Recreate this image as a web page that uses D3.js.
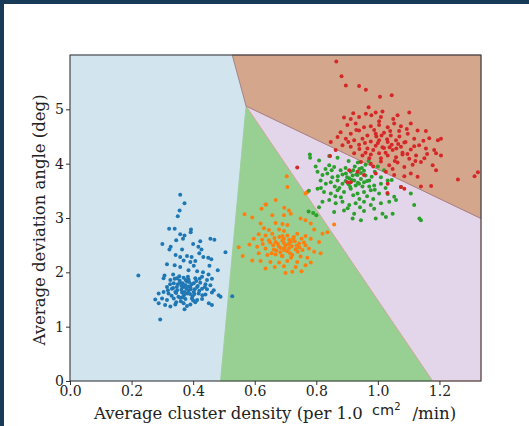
<!DOCTYPE html>
<html>
<head>
<meta charset="utf-8">
<script src="https://cdn.jsdelivr.net/npm/d3@7"></script>
<style>
  html, body { margin: 0; padding: 0; background: #fff; }
  svg { display: block; }
</style>
</head>
<body>
<svg id="chart" width="529" height="426"></svg>
<script>
// cluster points [density, angle]
var bluePts = [
  [0.358,3.43],[0.372,3.27],[0.356,3.14],[0.350,3.03],[0.322,2.80],[0.340,2.80],[0.393,2.79],[0.392,2.74],
  [0.358,2.70],[0.372,2.68],[0.367,2.62],[0.345,2.59],[0.300,2.52],[0.400,2.52],[0.423,2.57],[0.456,2.62],
  [0.469,2.60],[0.327,2.47],[0.323,2.42],[0.364,2.42],[0.417,2.47],[0.427,2.42],[0.505,2.37],[0.343,2.32],
  [0.358,2.28],[0.380,2.30],[0.395,2.28],[0.420,2.35],[0.433,2.28],[0.449,2.27],[0.459,2.24],[0.369,2.22],
  [0.391,2.19],[0.407,2.21],[0.315,2.15],[0.340,2.13],[0.358,2.10],[0.402,2.12],[0.453,2.12],[0.222,1.94],
  [0.307,1.94],[0.335,1.96],[0.385,2.04],[0.413,2.02],[0.480,2.04],[0.432,2.00],[0.450,1.96],
  [0.304,1.89],[0.326,1.86],[0.347,1.89],[0.369,1.90],[0.385,1.87],[0.407,1.89],[0.429,1.92],[0.445,1.86],
  [0.461,1.88],[0.337,1.80],[0.358,1.81],[0.380,1.83],[0.402,1.80],[0.423,1.81],[0.440,1.78],[0.456,1.76],
  [0.315,1.73],[0.331,1.70],[0.347,1.73],[0.369,1.73],[0.391,1.72],[0.413,1.73],[0.429,1.70],[0.445,1.69],
  [0.467,1.67],[0.288,1.61],[0.304,1.64],[0.320,1.61],[0.342,1.64],[0.364,1.63],[0.380,1.61],[0.402,1.64],
  [0.418,1.61],[0.440,1.59],[0.461,1.63],[0.483,1.58],[0.277,1.50],[0.299,1.52],[0.315,1.49],[0.337,1.52],
  [0.358,1.53],[0.375,1.51],[0.396,1.52],[0.413,1.49],[0.429,1.51],[0.451,1.43],[0.461,1.40],[0.309,1.40],
  [0.326,1.37],[0.342,1.41],[0.369,1.43],[0.391,1.41],[0.407,1.45],[0.293,1.13],[0.372,1.32],[0.527,1.56],
  [0.288,1.43],[0.489,1.55],
  [0.350,1.78],[0.362,1.68],[0.375,1.76],[0.385,1.66],[0.395,1.78],[0.405,1.69],[0.345,1.62],[0.356,1.85],
  [0.370,1.58],[0.383,1.92],[0.398,1.56],[0.410,1.84],[0.335,1.71],[0.366,1.80],[0.378,1.70],[0.352,1.55],
  [0.390,1.60],[0.415,1.75],[0.325,1.78],[0.340,1.88],[0.372,1.64],[0.387,1.82],[0.360,1.47],[0.400,1.48],
  [0.420,1.66],[0.430,1.58],[0.318,1.67],[0.345,1.45],[0.380,1.38],[0.355,1.93],
  [0.362,1.75],[0.392,1.69],[0.376,1.86],[0.348,1.67],[0.404,1.60],[0.366,1.54],[0.386,1.74],[0.330,1.57],
  [0.438,1.73],[0.421,1.88]
];
var orangePts = [
  [0.637,3.25],[0.696,3.19],[0.711,3.14],[0.622,3.17],[0.567,3.07],[0.592,3.01],[0.657,3.05],[0.695,3.05],
  [0.717,3.08],[0.749,2.99],[0.765,2.96],[0.782,2.90],[0.619,2.90],[0.668,2.91],[0.690,2.89],[0.706,2.87],
  [0.630,2.81],[0.646,2.78],[0.679,2.79],[0.695,2.76],[0.793,2.79],[0.820,2.71],[0.613,2.70],[0.635,2.68],
  [0.657,2.71],[0.690,2.67],[0.706,2.68],[0.727,2.65],[0.738,2.71],[0.765,2.67],[0.782,2.62],[0.597,2.62],
  [0.624,2.60],[0.646,2.59],[0.668,2.56],[0.695,2.54],[0.717,2.56],[0.744,2.53],[0.765,2.50],[0.809,2.56],
  [0.583,2.51],[0.548,2.46],[0.608,2.47],[0.635,2.44],[0.662,2.42],[0.679,2.47],[0.695,2.41],[0.711,2.44],
  [0.733,2.42],[0.755,2.41],[0.776,2.44],[0.793,2.38],[0.814,2.35],[0.613,2.35],[0.641,2.32],[0.668,2.33],
  [0.690,2.30],[0.722,2.32],[0.749,2.29],[0.771,2.27],[0.561,2.30],[0.592,2.22],[0.619,2.21],[0.651,2.19],
  [0.679,2.18],[0.706,2.21],[0.738,2.19],[0.782,2.18],[0.635,2.07],[0.665,2.10],[0.695,2.11],[0.733,2.10],
  [0.765,2.13],[0.700,1.99],[0.722,2.01],[0.752,2.02],
  [0.675,2.52],[0.685,2.45],[0.700,2.50],[0.690,2.58],[0.710,2.52],[0.705,2.39],[0.720,2.48],[0.670,2.40],
  [0.695,2.62],[0.730,2.57],[0.660,2.50],[0.680,2.65],[0.745,2.46],[0.715,2.35],[0.650,2.55],[0.740,2.38],
  [0.725,2.62],[0.655,2.35],[0.688,2.30],[0.760,2.55],
  [0.704,3.77],[0.706,3.57],[0.769,3.47],[0.668,3.33],[0.635,3.25],[0.858,2.88],[0.836,2.74],[0.765,3.45],
  [0.771,3.48],
  [0.712,2.60],[0.683,2.37],[0.736,2.49],[0.664,2.63],[0.697,2.45],[0.752,2.62],[0.626,2.52],[0.718,2.27]
];
var greenPts = [
  [0.779,4.17],[0.780,4.11],[0.798,3.95],[0.809,4.06],[0.842,4.14],[0.869,4.11],[0.842,3.97],[0.858,3.94],
  [0.804,3.85],[0.820,3.79],[0.836,3.82],[0.879,3.88],[0.896,3.82],[0.912,3.85],[0.934,3.79],[0.945,3.83],
  [0.814,3.69],[0.831,3.63],[0.847,3.66],[0.869,3.69],[0.885,3.63],[0.907,3.73],[0.923,3.69],[0.939,3.63],
  [0.955,3.66],[0.972,3.69],[0.988,3.60],[1.010,3.63],[0.776,3.50],[0.804,3.54],[0.825,3.48],[0.847,3.45],
  [0.869,3.51],[0.890,3.48],[0.912,3.54],[0.934,3.45],[0.955,3.48],[0.977,3.51],[1.004,3.45],[1.032,3.44],
  [1.053,3.39],[0.820,3.30],[0.842,3.33],[0.863,3.27],[0.885,3.30],[0.907,3.24],[0.928,3.27],[0.955,3.30],
  [0.977,3.24],[1.010,3.27],[1.037,3.30],[1.059,3.33],[0.809,3.20],[0.858,3.11],[0.890,3.14],[0.923,3.08],
  [0.955,3.13],[0.988,3.17],[1.015,3.08],[1.048,3.08],[1.118,3.24],[1.135,2.99],[1.140,2.96],[0.918,2.99],
  [0.945,2.96],[0.993,2.99],[1.026,3.02],[1.107,3.45],[1.075,3.57],[1.032,3.69],
  [0.900,3.75],[0.915,3.70],[0.930,3.80],[0.945,3.72],[0.920,3.88],[0.905,3.62],[0.940,3.90],[0.950,3.58],
  [0.960,3.78],[0.885,3.80],[0.935,3.65],[0.925,3.95],[0.910,3.57],[0.955,3.87],[0.965,3.68],[0.895,3.92],
  [0.870,3.77],[0.980,3.76],[0.875,3.55],[0.990,3.85],[0.960,3.98],[0.990,3.52],[0.935,4.02],[0.905,4.05],
  [0.970,4.05],[1.000,3.95],[1.020,3.88],[1.010,3.75],[0.850,3.88],[0.860,3.58],[0.880,3.38],[0.940,3.35],
  [0.965,3.40],[0.920,3.42],[1.025,3.55],[1.045,3.70],[0.830,3.90],[0.815,3.55],
  [0.775,3.12],[0.790,3.09],[0.800,3.05],
  [0.918,3.78],[0.928,3.60],[0.948,3.92],[0.895,3.68],[0.972,3.58],[0.862,3.40],[0.902,3.18],[0.942,3.20],
  [0.985,3.35],[0.852,3.75]
];
var redPts = [
  [0.865,5.88],[0.882,5.61],[0.896,5.44],[0.939,5.43],[0.961,5.36],[1.007,5.23],[1.045,5.26],[0.970,5.04],
  [0.890,4.85],[0.912,4.82],[0.939,4.86],[0.961,4.92],[0.979,4.89],[0.993,4.94],[1.010,4.86],[1.015,4.96],
  [1.064,4.89],[1.102,4.94],[0.901,4.71],[0.928,4.74],[0.955,4.67],[0.977,4.69],[1.004,4.71],[1.032,4.67],
  [1.053,4.74],[1.075,4.69],[1.107,4.74],[0.879,4.58],[0.912,4.55],[0.939,4.61],[0.966,4.52],[0.993,4.55],
  [1.020,4.57],[1.042,4.52],[1.069,4.60],[1.097,4.55],[1.129,4.61],[1.156,4.60],[0.869,4.49],[0.896,4.46],
  [0.923,4.43],[0.950,4.46],[0.977,4.41],[1.004,4.43],[1.032,4.40],[1.059,4.43],[1.086,4.39],[1.118,4.46],
  [1.167,4.47],[1.195,4.43],[1.205,4.46],[0.847,4.40],[0.885,4.34],[0.912,4.31],[0.939,4.35],[0.966,4.28],
  [0.993,4.33],[1.020,4.29],[1.048,4.25],[1.075,4.31],[1.107,4.26],[1.134,4.34],[1.156,4.28],[1.183,4.25],
  [0.863,4.25],[0.923,4.19],[0.950,4.15],[0.977,4.17],[1.004,4.19],[1.032,4.15],[1.059,4.12],[1.080,4.17],
  [1.102,4.09],[1.124,4.15],[1.151,4.10],[1.189,4.19],[1.205,4.15],[0.945,4.03],[0.977,4.00],[1.010,4.04],
  [1.037,3.97],[1.064,4.02],[1.086,3.94],[1.113,3.98],[1.140,4.03],[1.178,3.97],[1.189,3.88],[0.907,3.88],
  [0.934,3.85],[0.955,3.79],[0.993,3.82],[1.026,3.85],[1.053,3.79],[1.086,3.77],[1.107,3.82],[1.129,3.76],
  [0.912,3.66],[1.032,3.63],[1.075,3.57],[1.173,3.59],[1.260,3.71],[1.314,3.77],[1.325,3.84],
  [0.738,3.93],[0.845,4.14],[0.901,3.66],[1.031,3.46],[1.086,3.54],[1.140,3.58],
  [1.000,4.38],[1.015,4.30],[1.030,4.45],[1.045,4.35],[1.060,4.28],[0.985,4.25],[1.025,4.20],[1.040,4.60],
  [1.070,4.50],[0.995,4.50],[1.055,4.05],[1.090,4.40],[1.010,4.10],[0.960,4.20],[1.080,4.20],
  [0.930,4.62],[0.958,4.38],[0.988,4.62],[1.012,4.52],[1.038,4.30],[1.066,4.36],[1.094,4.64],[1.118,4.32],
  [1.148,4.42],[0.904,4.40],[0.940,4.27],[0.972,4.10],[1.096,4.18],[1.122,4.05],[1.160,4.18],[0.985,3.95],
  [1.048,3.90],[1.004,4.78],[1.050,4.82],[0.920,4.93]
];

// decision regions (corner points in data units)
var regionBlue   = [[0,0],[0.489,0],[0.572,5.06],[0.527,6],[0,6]];
var regionGreen  = [[0.489,0],[1.178,0],[0.572,5.06]];
var regionPurple = [[1.178,0],[1.335,0],[1.335,2.99],[0.572,5.06]];
var regionBrown  = [[0.527,6],[0.572,5.06],[1.335,2.99],[1.335,6]];

var xTicks = [0, 0.2, 0.4, 0.6, 0.8, 1.0, 1.2];
var yTicks = [0, 1, 2, 3, 4, 5];

var svg = d3.select("#chart");
var margin = {left: 70, top: 55, right: 48, bottom: 45};
var W = 529, H = 426;

// dark frame edges of the screenshot
svg.append("rect").attr("x", 0).attr("y", 0).attr("width", W).attr("height", H).attr("fill", "#163a57");
svg.append("rect").attr("x", 4).attr("y", 4).attr("width", W - 4).attr("height", H - 4).attr("fill", "#fff");

var x = d3.scaleLinear().domain([0, 1.335]).range([margin.left, W - margin.right]);
var y = d3.scaleLinear().domain([0, 6]).range([H - margin.bottom, margin.top]);

var line = d3.line().x(function (d) { return x(d[0]); }).y(function (d) { return y(d[1]); });

var regions = [
  {pts: regionBlue, fill: "#d2e5ef", stroke: "#c4d3e0"},
  {pts: regionGreen, fill: "#98cf93", stroke: "#98cf93"},
  {pts: regionPurple, fill: "#e4d6ea", stroke: "#d49a8c"},
  {pts: regionBrown, fill: "#d4a78c", stroke: "#9b7480"}
];
regions.forEach(function (r) {
  svg.append("path")
    .attr("d", line(r.pts) + "Z")
    .attr("fill", r.fill)
    .attr("stroke", r.stroke)
    .attr("stroke-width", 0.8);
});

// clip points to plot area
svg.append("clipPath").attr("id", "plotclip")
  .append("rect")
  .attr("x", margin.left).attr("y", margin.top)
  .attr("width", W - margin.left - margin.right)
  .attr("height", H - margin.top - margin.bottom);

var dots = svg.append("g").attr("clip-path", "url(#plotclip)");
var series = [
  {pts: bluePts, color: "#1f77b4"},
  {pts: orangePts, color: "#ff7f0e"},
  {pts: greenPts, color: "#2ca02c"},
  {pts: redPts, color: "#d62728"}
];
series.forEach(function (s) {
  dots.selectAll(null)
    .data(s.pts)
    .enter()
    .append("circle")
    .attr("cx", function (d) { return x(d[0]); })
    .attr("cy", function (d) { return y(d[1]); })
    .attr("r", 2)
    .attr("fill", s.color);
});

// frame
svg.append("rect")
  .attr("x", margin.left).attr("y", margin.top)
  .attr("width", W - margin.left - margin.right)
  .attr("height", H - margin.top - margin.bottom)
  .attr("fill", "none")
  .attr("stroke", "#333")
  .attr("stroke-width", 1);

var xAxis = svg.append("g")
  .attr("transform", "translate(0," + (H - margin.bottom) + ")")
  .call(d3.axisBottom(x).tickValues(xTicks).tickFormat(d3.format(".1f")).tickSize(4).tickPadding(1));
var yAxis = svg.append("g")
  .attr("transform", "translate(" + margin.left + ",0)")
  .call(d3.axisLeft(y).tickValues(yTicks).tickFormat(d3.format("d")).tickSize(4).tickPadding(2));

[xAxis, yAxis].forEach(function (a) {
  a.select(".domain").remove();
  a.selectAll("line").attr("stroke", "#333");
  a.selectAll("text")
    .attr("fill", "#222")
    .style("font-family", "'DejaVu Serif', serif")
    .style("font-size", "14px");
});

// axis labels
var xl = svg.append("text")
  .attr("x", 94)
  .attr("y", 419)
  .attr("fill", "#222")
  .style("font-family", "'DejaVu Serif', serif")
  .style("font-size", "16.5px");
xl.append("tspan").text("Average cluster density (per 1.0 ");
xl.append("tspan").attr("dx", 4).attr("dy", -4)
  .style("font-family", "'DejaVu Sans', sans-serif").style("font-size", "14.5px").text("cm");
xl.append("tspan").attr("dy", -5)
  .style("font-family", "'DejaVu Sans', sans-serif").style("font-size", "10px").text("2");
xl.append("tspan").attr("dx", 12).attr("dy", 9).text("/min)");

svg.append("text")
  .attr("transform", "translate(45," + ((margin.top + H - margin.bottom) / 2 + 2) + ") rotate(-90)")
  .attr("text-anchor", "middle")
  .attr("fill", "#222")
  .style("font-family", "'DejaVu Serif', serif")
  .style("font-size", "16.5px")
  .text("Average deviation angle (deg)");
</script>
</body>
</html>
